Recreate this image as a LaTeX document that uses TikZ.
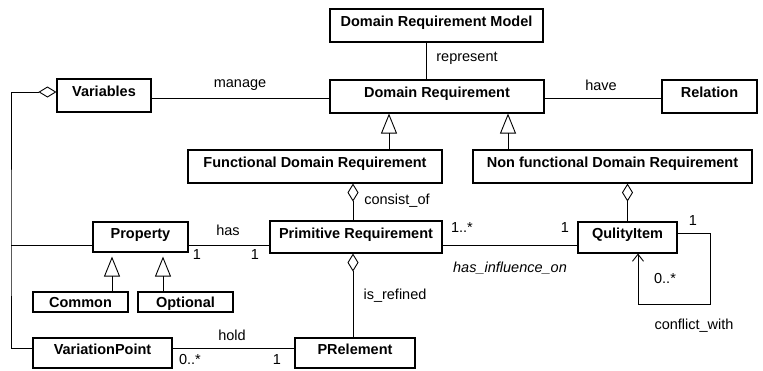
\documentclass[tikz,border=0pt]{standalone}
\usepackage{fontspec}
\setmainfont{Liberation Sans}
\usetikzlibrary{arrows.meta,shadows}
\begin{document}
\begin{tikzpicture}[x=1pt,y=-1pt,
  cls/.style={draw, line width=1.1pt, fill=white, inner sep=0pt,
    font=\fontsize{14.5}{16}\selectfont\bfseries,
    text height=10pt, text depth=8pt,
    drop shadow={shadow xshift=1.2pt, shadow yshift=-1.2pt, opacity=1, fill=black}},
  small/.style={cls, text height=10pt, text depth=0pt},
  lbl/.style={font=\fontsize{14.5}{16}\selectfont, inner sep=0pt},
  conn/.style={line width=0.9pt},
  gen/.style={conn, -{Triangle[open, length=20pt, width=16pt, line width=0.9pt]}},
  agg/.style={conn, -{Diamond[open, length=18pt, width=11pt, line width=0.9pt]}},
  nav/.style={conn, -{Straight Barb[length=7pt, width=11pt, line width=0.9pt]}}
]
\useasboundingbox (0,0) rectangle (763,370);

% classes
\node[cls, minimum width=213pt, minimum height=33pt] (drm) at (436.5,25.5) {Domain Requirement Model};
\node[cls, minimum width=214pt, minimum height=33pt] (dr) at (437,96.5) {Domain Requirement};
\node[cls, minimum width=94pt, minimum height=33pt] (var) at (104,95.5) {Variables};
\node[cls, minimum width=95pt, minimum height=33pt] (rel) at (709.5,96.5) {Relation};
\node[cls, minimum width=254pt, minimum height=33pt] (fdr) at (315,166.5) {Functional Domain Requirement};
\node[cls, minimum width=279pt, minimum height=33pt] (nfdr) at (612.5,166.5) {Non functional Domain Requirement};
\node[cls, minimum width=95pt, minimum height=30pt] (prop) at (140.5,237) {Property};
\node[cls, minimum width=172pt, minimum height=32pt] (prim) at (356,237) {Primitive Requirement};
\node[cls, minimum width=99pt, minimum height=31pt] (qi) at (627.5,237.5) {QulityItem};
\node[small, minimum width=95pt, minimum height=20pt] (com) at (80.5,302) {Common};
\node[small, minimum width=95pt, minimum height=20pt] (opt) at (185.5,302) {Optional};
\node[cls, minimum width=139pt, minimum height=30pt] (vp) at (102.5,353) {VariationPoint};
\node[cls, minimum width=120pt, minimum height=30pt] (pre) at (355,353) {PRelement};

% associations
\draw[conn] ([xshift=-10.5pt]drm.south) -- ([xshift=-11pt]dr.north);
\draw[conn] ([yshift=-2.5pt]var.east) -- ([yshift=-2.5pt]var.east -| dr.west);
\draw[conn] ([yshift=-1.5pt]dr.east) -- ([yshift=-1.5pt]dr.east -| rel.west);
\draw[conn] ([yshift=-8pt]prop.east) -- ([yshift=-8pt]prop.east -| prim.west);
\draw[conn] ([yshift=-8pt]prim.east) -- ([yshift=-8pt]prim.east -| qi.west);
\draw[conn] ([yshift=5pt]vp.east) -- ([yshift=5pt]vp.east -| pre.west);

% generalizations
\draw[gen] ([xshift=74pt]fdr.north) -- ([xshift=74pt]fdr.north |- dr.south);
\draw[gen] ([xshift=-104.5pt]nfdr.north) -- ([xshift=-104.5pt]nfdr.north |- dr.south);
\draw[gen, shorten >=4pt] ([xshift=31.5pt]com.north) -- ([xshift=31.5pt]com.north |- prop.south);
\draw[gen, shorten >=4pt] ([xshift=-22.5pt]opt.north) -- ([xshift=-22.5pt]opt.north |- prop.south);

% aggregations
\draw[agg] ([xshift=-3pt]prim.north) -- ([xshift=-3pt]prim.north |- fdr.south);
\draw[agg] (qi.north) -- (qi.north |- nfdr.south);
\draw[agg] ([xshift=-2pt]pre.north) -- ([xshift=-2pt]pre.north |- prim.south);
\coordinate (lc) at (11,245);
\draw[conn, {Diamond[open, length=18pt, width=11pt, line width=0.9pt]}-] ([yshift=3.5pt]var.west) -| (lc) |- ([yshift=5pt]vp.west);
\draw[conn] (lc) -- ([yshift=-8pt]prop.west);

% self association
\coordinate (loopc) at (710,304);
\draw[nav] ([yshift=4.5pt]qi.east) -| (loopc) -| ([xshift=10.5pt]qi.south);

% labels
\node[lbl] (l1) at (467,58) {represent};
\node[lbl] (l2) at (240,85) {manage};
\node[lbl] (l3) at (601,85) {have};
\node[lbl] (l4) at (397,201) {consist\_of};
\node[lbl] (l5) at (228,230) {has};
\node[lbl] (l6) at (197,255) {1};
\node[lbl] (l7) at (255,255) {1};
\node[lbl] (l8) at (462,228) {1..*};
\node[lbl] (l9) at (565,228) {1};
\node[lbl] (l10) at (510,268) {\itshape has\_influence\_on};
\node[lbl] (l11) at (693,221) {1};
\node[lbl] (l12) at (665,279) {0..*};
\node[lbl] (l13) at (694,326) {conflict\_with};
\node[lbl] (l14) at (395,296) {is\_refined};
\node[lbl] (l15) at (232,335) {hold};
\node[lbl] (l16) at (190,360) {0..*};
\node[lbl] (l17) at (277,360) {1};
\end{tikzpicture}
\end{document}
